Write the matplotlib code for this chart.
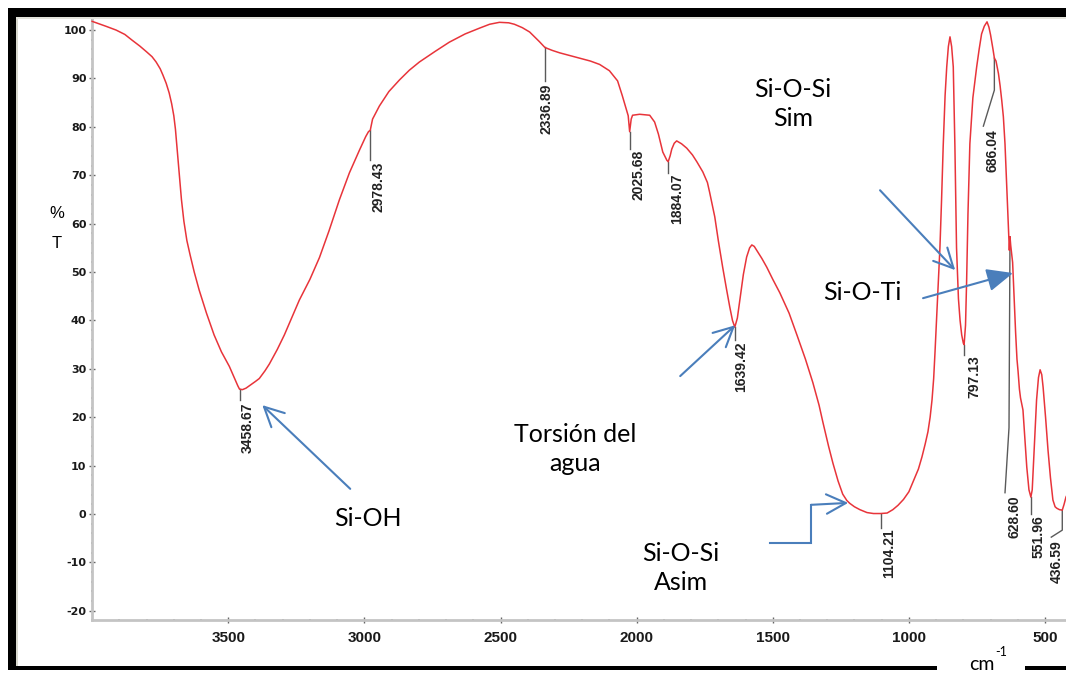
import numpy as np
import matplotlib
matplotlib.use("Agg")
import matplotlib.pyplot as plt
from matplotlib.patches import Rectangle
from matplotlib import font_manager
from matplotlib.ticker import MultipleLocator, FixedLocator

plt.rcParams["axes.unicode_minus"] = False

# ---------------- data ----------------
wavenumber = [4000, 3980, 3950, 3912, 3880, 3853, 3825, 3800, 3780, 3765, 3750, 3740, 3728, 3717,
              3708, 3700, 3694, 3688, 3680, 3672, 3663, 3652, 3640, 3625, 3607, 3580, 3552, 3525,
              3496, 3478, 3465, 3458.67, 3448, 3435, 3420, 3400, 3386, 3365, 3349, 3320, 3294,
              3265, 3239, 3200, 3165, 3130, 3092, 3055, 3018, 2995, 2985, 2978.43, 2970, 2945,
              2910, 2871, 2835, 2798, 2740, 2688, 2630, 2577, 2540, 2504, 2470, 2449, 2420, 2393,
              2357, 2336.89, 2310, 2283, 2250, 2210, 2170, 2136, 2100, 2070, 2053, 2040, 2031,
              2025.68, 2020, 2015, 1989, 1952, 1934, 1920, 1904, 1889, 1884.07, 1877, 1871, 1862,
              1853, 1835, 1816, 1795, 1779, 1757, 1740, 1732, 1713, 1700, 1684, 1670, 1658, 1648,
              1639.42, 1630, 1621, 1608, 1596, 1585, 1577, 1568, 1559, 1540, 1522, 1500, 1474,
              1440, 1410, 1380, 1353, 1330, 1316, 1295, 1279, 1260, 1243, 1228, 1217, 1200, 1180,
              1154, 1130, 1104.21, 1080, 1059, 1040, 1020, 1000, 985, 965, 952, 940, 930, 922,
              915, 909, 904, 899, 895, 890, 886, 880, 874, 867, 861, 855, 849, 843, 837, 831,
              825, 818, 812, 806, 800, 797.13, 792, 788, 783, 776, 765, 751, 742, 733, 723, 713,
              706, 700, 691, 686.04, 680, 671, 665, 659, 653, 647, 641, 635, 631, 628.6, 626, 619,
              613, 608, 603, 599, 594, 590, 586, 581, 574, 567, 559, 551.96, 547, 544, 537, 531,
              524, 518, 512, 507, 498, 489, 480, 471, 463, 457, 447, 436.59, 430, 423, 410, 375]
transmittance = [101.8, 101.4, 100.8, 100.0, 99.1, 97.9, 96.7, 95.5, 94.5, 93.4, 92.0, 90.7, 89.0, 87.0,
                 84.8, 82.3, 79.5, 75.5, 70.0, 65.0, 60.5, 56.5, 53.5, 50.0, 46.3, 41.5, 37.0, 33.5,
                 30.5, 28.2, 26.5, 25.8, 25.7, 26.0, 26.6, 27.4, 28.0, 29.6, 31.0, 34.0, 37.0,
                 40.8, 44.2, 48.5, 53.0, 58.5, 64.9, 70.5, 75.2, 78.0, 79.0, 79.3, 81.6, 84.3,
                 87.3, 89.7, 91.7, 93.4, 95.6, 97.5, 99.2, 100.4, 101.2, 101.6, 101.5, 101.2, 100.5, 99.6,
                 97.6, 96.4, 95.8, 95.3, 94.8, 94.2, 93.6, 92.9, 91.6, 89.5, 86.5, 84.0, 82.3,
                 79.0, 81.6, 82.4, 82.6, 82.4, 81.0, 78.5, 74.8, 73.1, 72.8, 74.0, 75.4, 76.6,
                 77.1, 76.5, 75.6, 74.2, 72.8, 70.7, 68.5, 66.5, 61.4, 56.5, 51.0, 46.5, 42.8, 40.0,
                 38.6, 40.5, 44.2, 49.5, 53.1, 55.0, 55.6, 55.3, 54.5, 52.8, 51.0, 48.5, 45.7,
                 41.5, 36.8, 32.0, 27.2, 22.5, 19.0, 14.0, 10.5, 6.8, 4.1, 2.8, 2.2, 1.5, 0.9,
                 0.3, 0.1, 0.1, 0.2, 0.9, 1.8, 3.0, 4.6, 6.6, 9.3, 11.8, 14.5, 17.0, 20.0,
                 23.6, 28.0, 33.5, 39.5, 44.2, 50.0, 55.0, 64.9, 76.0, 86.5, 92.4, 96.6, 98.6, 96.6, 92.4, 76.0,
                 55.0, 44.5, 40.0, 37.0, 35.3, 35.0, 39.0, 48.0, 62.0, 76.5, 86.0, 92.4, 96.0, 99.2, 100.8, 101.7,
                 100.6, 99.0, 96.0, 94.2, 93.6, 91.0, 88.5, 85.5, 82.1, 76.5, 68.4, 60.5, 54.5, 57.3, 55.5, 52.0,
                 44.2, 37.5, 32.0, 29.5, 25.8, 24.0, 22.9, 21.5, 15.5, 9.7, 5.0, 3.5, 5.0, 8.5, 16.5, 23.6,
                 28.2, 29.8, 28.8, 26.2, 20.0, 13.2, 7.5, 2.9, 1.5, 1.2, 0.9, 0.8, 2.0, 3.5, 5.0, 6.0]

peak_labels = ["3458.67", "2978.43", "2336.89", "2025.68", "1884.07", "1639.42",
               "1104.21", "797.13", "686.04", "628.60", "551.96", "436.59"]

x_ticks = [3500, 3000, 2500, 2000, 1500, 1000, 500]
y_ticks = [-20, -10, 0, 10, 20, 30, 40, 50, 60, 70, 80, 90, 100]

# ---------------- layout ----------------
W, H = 1066, 675
fig = plt.figure(figsize=(W / 100, H / 100), dpi=100)
fig.patch.set_facecolor("white")

def frect(x0, y0, x1, y1, color):
    fig.patches.append(Rectangle((x0 / W, 1 - y1 / H), (x1 - x0) / W, (y1 - y0) / H,
                                 transform=fig.transFigure, color=color, zorder=0, lw=0))

# outer frame
frect(8, 8, W, 17, "black")
frect(8, 8, 16, 669, "black")
frect(16, 17, 18, 666, "#d9d9cf")
frect(16, 17, W, 19, "#e4e4dc")
frect(8, 666, 937, 670, "black")
frect(1025, 666, W, 670, "black")

ax_left, ax_right, ax_top, ax_bottom = 92, 1080, 17, 620
ax = fig.add_axes([ax_left / W, 1 - ax_bottom / H, (ax_right - ax_left) / W, (ax_bottom - ax_top) / H])
ax.set_facecolor("none")

ax.set_xlim(4000.5, 371.5)
ax.set_ylim(-21.9, 102.7)

for s in ("top", "right"):
    ax.spines[s].set_visible(False)
for s in ("left", "bottom"):
    ax.spines[s].set_color("#c4c4c4")
    ax.spines[s].set_linewidth(2)

names = {f.name for f in font_manager.fontManager.ttflist}
xfont = "Liberation Sans Narrow" if "Liberation Sans Narrow" in names else "Liberation Sans"

ax.xaxis.set_major_locator(FixedLocator(x_ticks))
ax.xaxis.set_minor_locator(MultipleLocator(100))
ax.yaxis.set_major_locator(FixedLocator(y_ticks))
ax.yaxis.set_minor_locator(MultipleLocator(2))
ax.tick_params(which="major", direction="inout", length=4, width=1, color="#666666")
ax.tick_params(which="minor", direction="inout", length=2, width=1.2, color="#777777")
ax.tick_params(axis="x", which="major", pad=6)
ax.tick_params(axis="y", which="major", pad=2)
for lab in ax.get_xticklabels():
    lab.set_fontfamily(xfont)
    lab.set_fontweight("bold")
    lab.set_fontsize(11)
    lab.set_color("#1a1a1a")
for lab in ax.get_yticklabels():
    lab.set_fontfamily("DejaVu Sans")
    lab.set_fontweight("bold")
    lab.set_fontsize(8)
    lab.set_color("#1a1a1a")

# spectrum
ax.plot(wavenumber, transmittance, color="#e8343a", lw=1.1, zorder=3, clip_on=False)

# pixel helpers for offsets
fig.canvas.draw()
def off(x, y, dx, dy):
    px, py = ax.transData.transform((x, y))
    return ax.transData.inverted().transform((px + dx, py - dy))

wn_arr = np.array(wavenumber)[::-1]
t_arr = np.array(transmittance)[::-1]

# leader path offsets (px, downward positive) and label offsets relative to leader end
leader_paths = [
    [(0, 0), (0, 11)],
    [(0, 0), (0, 30)],
    [(0, 0), (0, 34)],
    [(0, 0), (0, 17)],
    [(0, 0), (0, 11)],
    [(0, 0), (0, 13)],
    [(0, 0), (0, 14)],
    [(0, 0), (0, 10)],
    [(0, 0), (0, 32), (-11, 68)],
    [(0, 0), (-1, 191), (-5, 256)],
    [(0, 0), (0, 17)],
    [(0, 0), (0, 20), (-11, 27)],
]
label_offsets = [(8, 2), (8, 1), (2, 2), (9, 1), (9, 1), (6, 1), (9, 1), (10, 1), (9, 3), (9, 3), (8, 1), (5, 3)]

for lab, path, (ldx, ldy) in zip(peak_labels, leader_paths, label_offsets):
    w0 = float(lab)
    t0 = float(np.interp(w0, wn_arr, t_arr))
    pts = [off(w0, t0, dx, dy) for dx, dy in path]
    ax.plot([p[0] for p in pts], [p[1] for p in pts], color="#5a5a5a", lw=1, zorder=2)
    ex, ey = path[-1]
    tx, ty = off(w0, t0, ex + ldx, ey + ldy)
    ax.text(tx, ty, lab, rotation=90, ha="center", va="top", fontsize=10,
            fontfamily="Liberation Sans", fontweight="bold", color="#222222", zorder=4)

# annotation texts
afont = dict(fontsize=18, fontfamily="Lato", color="black", ha="center", va="center",
             linespacing=1.3, zorder=5)
ax.text(2988, -1.0, "Si-OH", **afont)
ax.text(2226, 13.4, "Torsión del\nagua", **afont)
ax.text(1837, -11.2, "Si-O-Si\nAsim", **afont)
ax.text(1425, 84.7, "Si-O-Si\nSim", **afont)
ax.text(1172, 45.7, "Si-O-Ti", **afont)

blue = "#4a7ebb"
open_arrow = dict(arrowstyle="->,head_length=0.7,head_width=0.35", color=blue, lw=1.5,
                  mutation_scale=20, shrinkA=0, shrinkB=0)
ax.annotate("", xy=(3375, 22.5), xytext=(3052, 5.2), arrowprops=open_arrow, zorder=6)
ax.annotate("", xy=(1638, 39.0), xytext=(1840, 28.5), arrowprops=open_arrow, zorder=6)
ax.annotate("", xy=(830, 50.4), xytext=(1106, 66.9), arrowprops=open_arrow, zorder=6)
ax.annotate("", xy=(617.5, 49.8), xytext=(948, 44.6),
            arrowprops=dict(arrowstyle="-|>,head_length=0.8,head_width=0.35", color=blue, lw=1.5,
                            mutation_scale=20, shrinkA=0, shrinkB=0), zorder=6)
ax.plot([1510, 1359, 1359], [-6.0, -6.0, 1.9], color=blue, lw=1.5, zorder=6, solid_joinstyle="miter")
ax.annotate("", xy=(1223, 2.3), xytext=(1359, 1.9), arrowprops=open_arrow, zorder=6)

# axis labels
fig.text(57 / W, 1 - 213 / H, "%", fontsize=12, fontfamily="Liberation Sans", ha="center", va="center")
fig.text(57 / W, 1 - 244 / H, "T", fontsize=12, fontfamily="Liberation Sans", ha="center", va="center")
fig.text(994 / W, 1 - 664 / H, "cm", fontsize=14, fontfamily="Lato", ha="right", va="center")
fig.text(995 / W, 1 - 652 / H, "-1", fontsize=9, fontfamily="Lato", ha="left", va="center")

fig.savefig("out.png", dpi=100)
